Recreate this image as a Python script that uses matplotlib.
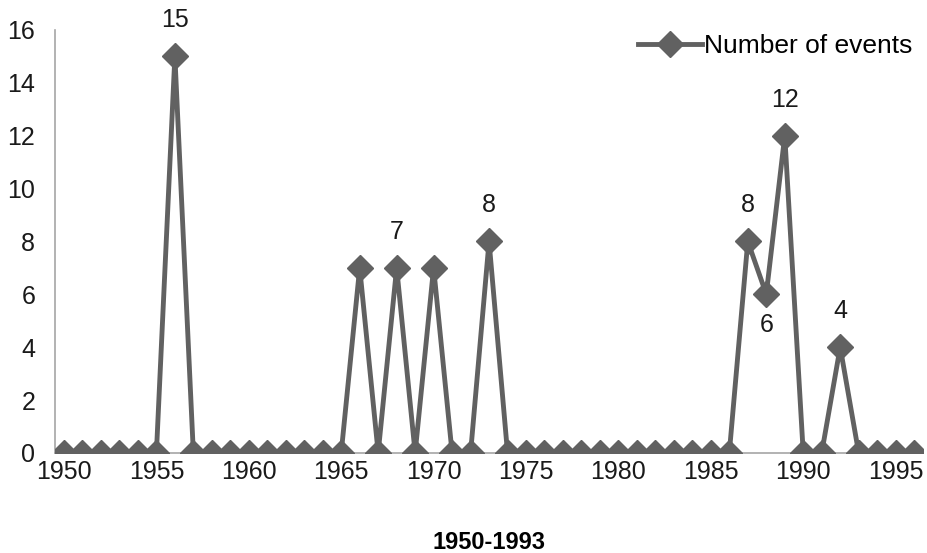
import numpy as np
import matplotlib
matplotlib.use("Agg")
import matplotlib.pyplot as plt

plt.rcParams['font.family'] = ['Liberation Sans', 'DejaVu Sans']

# data
years = list(range(1950, 1997))
peaks = {1956: 15, 1966: 7, 1968: 7, 1970: 7, 1973: 8,
         1987: 8, 1988: 6, 1989: 12, 1992: 4}
events = [peaks.get(y, 0) for y in years]

# which points carry a value label, and whether it sits above or below
label_years = [1956, 1968, 1973, 1987, 1988, 1989, 1992]
label_below = [1988]

line_col = '#616161'
axis_col = '#a6a6a6'

fig = plt.figure(figsize=(9.28, 5.53), dpi=100)
ax = fig.add_axes([0.059, 0.181, 0.936, 0.765])

ax.plot(years, events, color=line_col, lw=3.5, marker='D', ms=13,
        markeredgecolor=line_col, markerfacecolor=line_col,
        label='Number of events', zorder=3)

for yr in label_years:
    v = events[years.index(yr)]
    off = -31 if yr in label_below else 36
    ax.annotate(str(v), (yr, v), xytext=(0, off * 72 / 100),
                textcoords='offset points', ha='center', va='center',
                fontsize=18, color='#1a1a1a')

ax.set_xlim(1949.5, 1996.5)
ax.set_ylim(0, 16)
ax.set_yticks(np.arange(0, 17, 2))
ax.set_xticks(np.arange(1950, 1996, 5))

for s in ['top', 'right']:
    ax.spines[s].set_visible(False)
for s in ['left', 'bottom']:
    ax.spines[s].set_color(axis_col)
    ax.spines[s].set_linewidth(1.2)

ax.tick_params(axis='both', length=0, labelsize=18, colors='#1a1a1a')
ax.tick_params(axis='y', pad=14)
ax.tick_params(axis='x', pad=5)

ax.set_xlabel('1950-1993', fontsize=17, fontweight='bold', labelpad=34)

ax.legend(loc='upper right', bbox_to_anchor=(1.0, 1.015), frameon=False,
          fontsize=19, handlelength=2.4, handletextpad=0.1, borderaxespad=0)

fig.savefig('out.png', dpi=100)
